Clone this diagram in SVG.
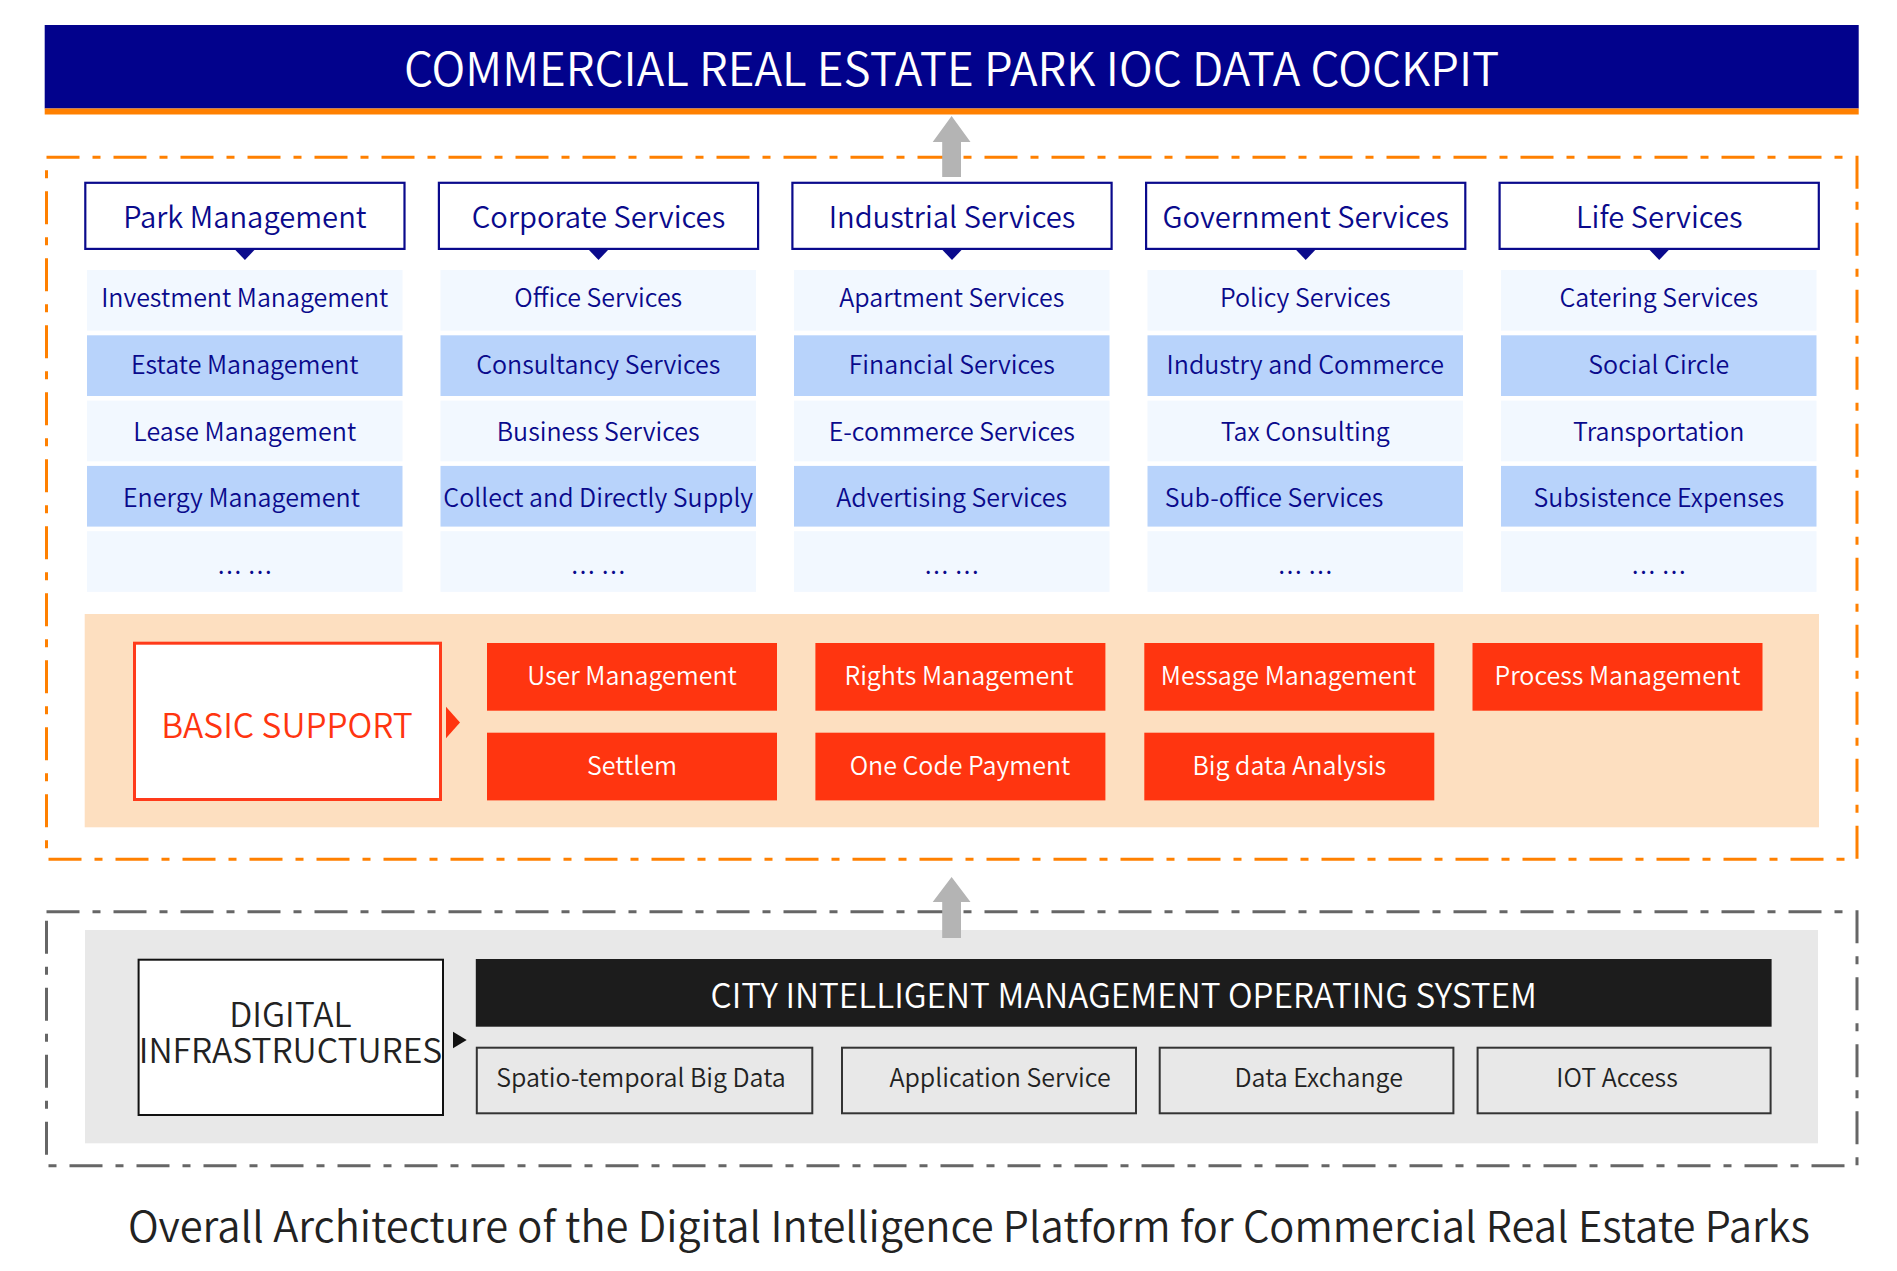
<svg xmlns="http://www.w3.org/2000/svg" width="1897" height="1271" viewBox="0 0 1897 1271">
<style>
text{font-family:"Noto Sans CJK SC","Source Han Sans SC","Noto Sans",sans-serif;text-anchor:middle;font-weight:350}
.hdr{fill:#fff;stroke:#0a0a8c;stroke-width:2.2}
.hdrt{fill:#0a0a8c;font-size:29.2px}
.rl{fill:#f2f8ff}
.rd{fill:#b8d3fb}
.it{fill:#0a0a8c;font-size:25px}
.red{fill:#ff3510}
.redt{fill:#fff;font-size:25px}
.sub{fill:#e8e8e8;stroke:#333;stroke-width:2}
.subt{fill:#222;font-size:25px}
.ptr{fill:#0a0a8c}
.garrow{fill:#b4b4b4}
</style>
<rect width="1897" height="1271" fill="#fff"/>

<g id="banner">
<rect x="44.7" y="25" width="1814" height="83.5" fill="#02028c"/>
<rect x="44.7" y="108.5" width="1814" height="6" fill="#ff8000"/>
<text x="951.6" y="85.7" style="font-size:45.8px;fill:#fff">COMMERCIAL REAL ESTATE PARK IOC DATA COCKPIT</text>
</g>

<g id="frames">
<rect x="46.5" y="157.3" width="1810.5" height="702" fill="none" stroke="#ff8000" stroke-width="3" stroke-dasharray="33 13 8 13"/>
<rect x="46.5" y="911.7" width="1810.5" height="254" fill="none" stroke="#666" stroke-width="3" stroke-dasharray="33 13 8 13"/>
</g>

<g id="col-park">
<rect class="hdr" x="85.3" y="182.8" width="319.2" height="66.1"/>
<text class="hdrt" x="244.9" y="228">Park Management</text>
<rect class="rl" x="87" y="270" width="315.5" height="60.7"/>
<text class="it" x="244.75" y="306.7">Investment Management</text>
<rect class="rd" x="87" y="335.3" width="315.5" height="60.7"/>
<text class="it" x="244.75" y="373.5">Estate Management</text>
<rect class="rl" x="87" y="400.6" width="315.5" height="60.7"/>
<text class="it" x="244.75" y="440.5">Lease Management</text>
<rect class="rd" x="87" y="465.9" width="315.5" height="60.7"/>
<text class="it" x="241.5" y="507">Energy Management</text>
<rect class="rl" x="87" y="531.2" width="315.5" height="60.7"/>
<text class="it" x="244.75" y="582">… …</text>
</g>

<g id="col-corporate">
<rect class="hdr" x="438.9" y="182.8" width="319.2" height="66.1"/>
<text class="hdrt" x="598.5" y="228">Corporate Services</text>
<rect class="rl" x="440.5" y="270" width="315.5" height="60.7"/>
<text class="it" x="598.25" y="306.7">Office Services</text>
<rect class="rd" x="440.5" y="335.3" width="315.5" height="60.7"/>
<text class="it" x="598.25" y="373.5">Consultancy Services</text>
<rect class="rl" x="440.5" y="400.6" width="315.5" height="60.7"/>
<text class="it" x="598.25" y="440.5">Business Services</text>
<rect class="rd" x="440.5" y="465.9" width="315.5" height="60.7"/>
<text class="it" x="598.25" y="507">Collect and Directly Supply</text>
<rect class="rl" x="440.5" y="531.2" width="315.5" height="60.7"/>
<text class="it" x="598.25" y="582">… …</text>
</g>

<g id="col-industrial">
<rect class="hdr" x="792.4" y="182.8" width="319.2" height="66.1"/>
<text class="hdrt" x="952" y="228">Industrial Services</text>
<rect class="rl" x="794" y="270" width="315.5" height="60.7"/>
<text class="it" x="951.75" y="306.7">Apartment Services</text>
<rect class="rd" x="794" y="335.3" width="315.5" height="60.7"/>
<text class="it" x="951.75" y="373.5">Financial Services</text>
<rect class="rl" x="794" y="400.6" width="315.5" height="60.7"/>
<text class="it" x="951.75" y="440.5">E-commerce Services</text>
<rect class="rd" x="794" y="465.9" width="315.5" height="60.7"/>
<text class="it" x="951.75" y="507">Advertising Services</text>
<rect class="rl" x="794" y="531.2" width="315.5" height="60.7"/>
<text class="it" x="951.75" y="582">… …</text>
</g>

<g id="col-government">
<rect class="hdr" x="1146.1" y="182.8" width="319.2" height="66.1"/>
<text class="hdrt" x="1305.7" y="228">Government Services</text>
<rect class="rl" x="1147.5" y="270" width="315.5" height="60.7"/>
<text class="it" x="1305.25" y="306.7">Policy Services</text>
<rect class="rd" x="1147.5" y="335.3" width="315.5" height="60.7"/>
<text class="it" x="1305.25" y="373.5">Industry and Commerce</text>
<rect class="rl" x="1147.5" y="400.6" width="315.5" height="60.7"/>
<text class="it" x="1305.25" y="440.5">Tax Consulting</text>
<rect class="rd" x="1147.5" y="465.9" width="315.5" height="60.7"/>
<text class="it" x="1274" y="507">Sub-office Services</text>
<rect class="rl" x="1147.5" y="531.2" width="315.5" height="60.7"/>
<text class="it" x="1305.25" y="582">… …</text>
</g>

<g id="col-life">
<rect class="hdr" x="1499.6" y="182.8" width="319.2" height="66.1"/>
<text class="hdrt" x="1659.2" y="228">Life Services</text>
<rect class="rl" x="1501" y="270" width="315.5" height="60.7"/>
<text class="it" x="1658.75" y="306.7">Catering Services</text>
<rect class="rd" x="1501" y="335.3" width="315.5" height="60.7"/>
<text class="it" x="1658.75" y="373.5">Social Circle</text>
<rect class="rl" x="1501" y="400.6" width="315.5" height="60.7"/>
<text class="it" x="1658.75" y="440.5">Transportation</text>
<rect class="rd" x="1501" y="465.9" width="315.5" height="60.7"/>
<text class="it" x="1658.75" y="507">Subsistence Expenses</text>
<rect class="rl" x="1501" y="531.2" width="315.5" height="60.7"/>
<text class="it" x="1658.75" y="582">… …</text>
</g>

<g id="basic-support">
<rect x="84.7" y="614" width="1734.3" height="213.3" fill="#fddfc0"/>
<rect x="134.5" y="643.2" width="306" height="156.3" fill="#fff" stroke="#ff3a1a" stroke-width="3"/>
<text x="287" y="737.7" style="font-size:33.6px;fill:#ff3510">BASIC SUPPORT</text>
</g>

<g id="support-items">
<rect class="red" x="487" y="643" width="290" height="67.7"/>
<text class="redt" x="632" y="685">User Management</text>
<rect class="red" x="815.4" y="643" width="290" height="67.7"/>
<text class="redt" x="959" y="685">Rights Management</text>
<rect class="red" x="1144.3" y="643" width="290" height="67.7"/>
<text class="redt" x="1288.5" y="685">Message Management</text>
<rect class="red" x="1472.5" y="643" width="290" height="67.7"/>
<text class="redt" x="1617.5" y="685">Process Management</text>
<rect class="red" x="487" y="732.7" width="290" height="67.7"/>
<text class="redt" x="632" y="775">Settlem</text>
<rect class="red" x="815.4" y="732.7" width="290" height="67.7"/>
<text class="redt" x="960" y="775">One Code Payment</text>
<rect class="red" x="1144.3" y="732.7" width="290" height="67.7"/>
<text class="redt" x="1289.3" y="775">Big data Analysis</text>
</g>

<g id="digital-infrastructure">
<rect x="85" y="930" width="1733" height="213.3" fill="#e8e8e8"/>
<rect x="138.6" y="959.7" width="304.4" height="155.3" fill="#fff" stroke="#111" stroke-width="2"/>
<text x="290.5" y="1026.7" style="font-size:33.7px;fill:#222">DIGITAL</text>
<text x="290.5" y="1063.3" style="font-size:33.7px;fill:#222">INFRASTRUCTURES</text>
</g>

<g id="operating-system">
<rect x="475.8" y="959" width="1295.8" height="67.7" fill="#1c1c1c"/>
<text x="1123.7" y="1008.3" style="font-size:33.4px;fill:#fff">CITY INTELLIGENT MANAGEMENT OPERATING SYSTEM</text>
<rect class="sub" x="476.8" y="1047.7" width="335.5" height="65.6"/>
<text class="subt" x="641" y="1087.3">Spatio-temporal Big Data</text>
<rect class="sub" x="842" y="1047.7" width="294" height="65.6"/>
<text class="subt" x="1000" y="1087.3">Application Service</text>
<rect class="sub" x="1159.7" y="1047.7" width="293.7" height="65.6"/>
<text class="subt" x="1318.7" y="1087.3">Data Exchange</text>
<rect class="sub" x="1477.6" y="1047.7" width="293" height="65.6"/>
<text class="subt" x="1617" y="1087.3">IOT Access</text>
</g>

<g id="connectors">
<path class="garrow" d="M951.6 116 L970.5 142 L961 142 L961 177 L942.2 177 L942.2 142 L932.7 142 Z"/>
<path class="garrow" d="M951.6 877 L970.5 902 L961 902 L961 938 L942.2 938 L942.2 902 L932.7 902 Z"/>
<path class="ptr" d="M234.9 249.5 L254.9 249.5 L244.9 260 Z"/>
<path class="ptr" d="M588.5 249.5 L608.5 249.5 L598.5 260 Z"/>
<path class="ptr" d="M942 249.5 L962 249.5 L952 260 Z"/>
<path class="ptr" d="M1295.7 249.5 L1315.7 249.5 L1305.7 260 Z"/>
<path class="ptr" d="M1649.2 249.5 L1669.2 249.5 L1659.2 260 Z"/>
<path d="M446 706.7 L460 722.5 L446 738.3 Z" fill="#ff3510"/>
<path d="M453 1031.7 L466.7 1040 L453 1048.3 Z" fill="#111"/>
</g>

<g id="caption">
<text x="968.8" y="1241.7" style="font-size:41.7px;fill:#222">Overall Architecture of the Digital Intelligence Platform for Commercial Real Estate Parks</text>
</g>
</svg>
